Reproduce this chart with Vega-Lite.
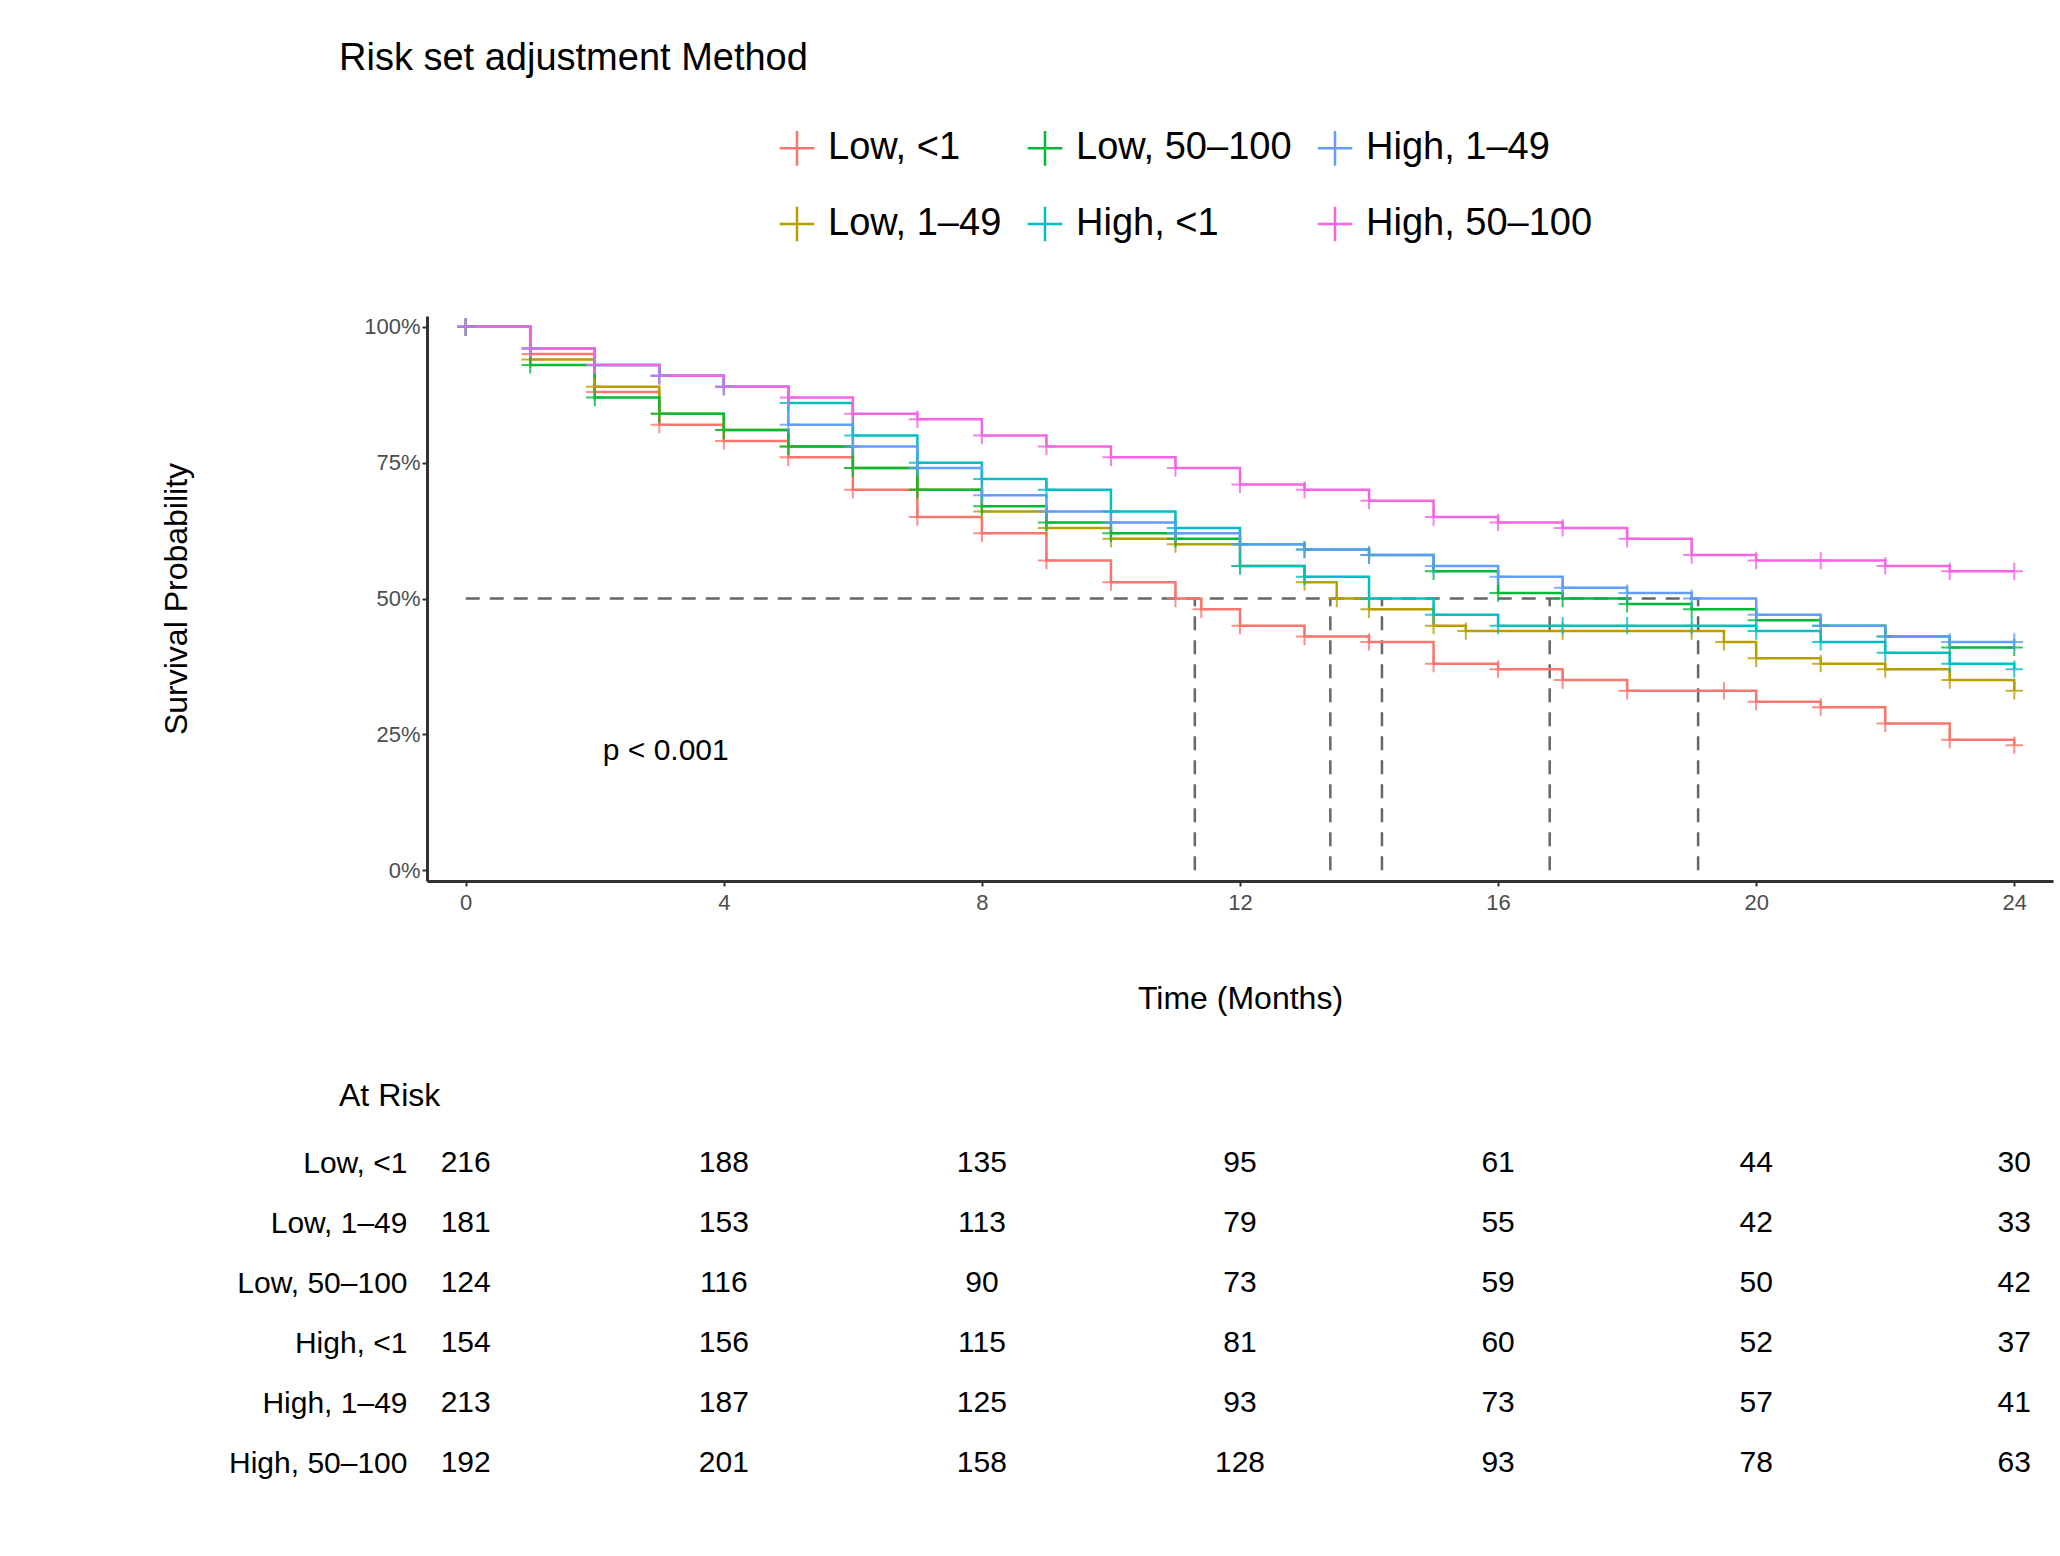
{
"$schema":"https://vega.github.io/schema/vega-lite/v6.json",
"background":"white",
"padding":{"left":160,"top":40,"right":20,"bottom":20},
"config":{"font":"Liberation Sans","view":{"stroke":null}},
"datasets":{
"surv":[
{"g":"Low, <1","t":0,"s":1.0},{"g":"Low, <1","t":1,"s":0.95},{"g":"Low, <1","t":2,"s":0.88},{"g":"Low, <1","t":3,"s":0.82},{"g":"Low, <1","t":4,"s":0.79},{"g":"Low, <1","t":5,"s":0.76},{"g":"Low, <1","t":6,"s":0.7},{"g":"Low, <1","t":7,"s":0.65},{"g":"Low, <1","t":8,"s":0.62},{"g":"Low, <1","t":9,"s":0.57},{"g":"Low, <1","t":10,"s":0.53},{"g":"Low, <1","t":11,"s":0.5},{"g":"Low, <1","t":11.4,"s":0.48},{"g":"Low, <1","t":12,"s":0.45},{"g":"Low, <1","t":13,"s":0.43},{"g":"Low, <1","t":14,"s":0.42},{"g":"Low, <1","t":15,"s":0.38},{"g":"Low, <1","t":16,"s":0.37},{"g":"Low, <1","t":17,"s":0.35},{"g":"Low, <1","t":18,"s":0.33},{"g":"Low, <1","t":19.5,"s":0.33},{"g":"Low, <1","t":20,"s":0.31},{"g":"Low, <1","t":21,"s":0.3},{"g":"Low, <1","t":22,"s":0.27},{"g":"Low, <1","t":23,"s":0.24},{"g":"Low, <1","t":24,"s":0.23},
{"g":"Low, 1–49","t":0,"s":1.0},{"g":"Low, 1–49","t":1,"s":0.94},{"g":"Low, 1–49","t":2,"s":0.89},{"g":"Low, 1–49","t":3,"s":0.84},{"g":"Low, 1–49","t":4,"s":0.81},{"g":"Low, 1–49","t":5,"s":0.78},{"g":"Low, 1–49","t":6,"s":0.74},{"g":"Low, 1–49","t":7,"s":0.7},{"g":"Low, 1–49","t":8,"s":0.66},{"g":"Low, 1–49","t":9,"s":0.63},{"g":"Low, 1–49","t":10,"s":0.61},{"g":"Low, 1–49","t":11,"s":0.6},{"g":"Low, 1–49","t":12,"s":0.56},{"g":"Low, 1–49","t":13,"s":0.53},{"g":"Low, 1–49","t":13.5,"s":0.5},{"g":"Low, 1–49","t":14,"s":0.48},{"g":"Low, 1–49","t":15,"s":0.45},{"g":"Low, 1–49","t":15.5,"s":0.44},{"g":"Low, 1–49","t":17,"s":0.44},{"g":"Low, 1–49","t":19,"s":0.44},{"g":"Low, 1–49","t":19.5,"s":0.42},{"g":"Low, 1–49","t":20,"s":0.39},{"g":"Low, 1–49","t":21,"s":0.38},{"g":"Low, 1–49","t":22,"s":0.37},{"g":"Low, 1–49","t":23,"s":0.35},{"g":"Low, 1–49","t":24,"s":0.33},
{"g":"Low, 50–100","t":0,"s":1.0},{"g":"Low, 50–100","t":1,"s":0.93},{"g":"Low, 50–100","t":2,"s":0.87},{"g":"Low, 50–100","t":3,"s":0.84},{"g":"Low, 50–100","t":4,"s":0.81},{"g":"Low, 50–100","t":5,"s":0.78},{"g":"Low, 50–100","t":6,"s":0.74},{"g":"Low, 50–100","t":7,"s":0.7},{"g":"Low, 50–100","t":8,"s":0.67},{"g":"Low, 50–100","t":9,"s":0.64},{"g":"Low, 50–100","t":10,"s":0.62},{"g":"Low, 50–100","t":11,"s":0.61},{"g":"Low, 50–100","t":12,"s":0.6},{"g":"Low, 50–100","t":13,"s":0.59},{"g":"Low, 50–100","t":14,"s":0.58},{"g":"Low, 50–100","t":15,"s":0.55},{"g":"Low, 50–100","t":16,"s":0.51},{"g":"Low, 50–100","t":17,"s":0.5},{"g":"Low, 50–100","t":18,"s":0.49},{"g":"Low, 50–100","t":19,"s":0.48},{"g":"Low, 50–100","t":20,"s":0.46},{"g":"Low, 50–100","t":21,"s":0.45},{"g":"Low, 50–100","t":22,"s":0.43},{"g":"Low, 50–100","t":23,"s":0.41},{"g":"Low, 50–100","t":24,"s":0.41},
{"g":"High, <1","t":0,"s":1.0},{"g":"High, <1","t":1,"s":0.96},{"g":"High, <1","t":2,"s":0.93},{"g":"High, <1","t":3,"s":0.91},{"g":"High, <1","t":4,"s":0.89},{"g":"High, <1","t":5,"s":0.86},{"g":"High, <1","t":6,"s":0.8},{"g":"High, <1","t":7,"s":0.75},{"g":"High, <1","t":8,"s":0.72},{"g":"High, <1","t":9,"s":0.7},{"g":"High, <1","t":10,"s":0.66},{"g":"High, <1","t":11,"s":0.63},{"g":"High, <1","t":12,"s":0.56},{"g":"High, <1","t":13,"s":0.54},{"g":"High, <1","t":14,"s":0.5},{"g":"High, <1","t":15,"s":0.47},{"g":"High, <1","t":16,"s":0.45},{"g":"High, <1","t":17,"s":0.45},{"g":"High, <1","t":18,"s":0.45},{"g":"High, <1","t":19,"s":0.45},{"g":"High, <1","t":20,"s":0.44},{"g":"High, <1","t":21,"s":0.42},{"g":"High, <1","t":22,"s":0.4},{"g":"High, <1","t":23,"s":0.38},{"g":"High, <1","t":24,"s":0.37},
{"g":"High, 1–49","t":0,"s":1.0},{"g":"High, 1–49","t":1,"s":0.96},{"g":"High, 1–49","t":2,"s":0.93},{"g":"High, 1–49","t":3,"s":0.91},{"g":"High, 1–49","t":4,"s":0.89},{"g":"High, 1–49","t":5,"s":0.82},{"g":"High, 1–49","t":6,"s":0.78},{"g":"High, 1–49","t":7,"s":0.74},{"g":"High, 1–49","t":8,"s":0.69},{"g":"High, 1–49","t":9,"s":0.66},{"g":"High, 1–49","t":10,"s":0.64},{"g":"High, 1–49","t":11,"s":0.62},{"g":"High, 1–49","t":12,"s":0.6},{"g":"High, 1–49","t":13,"s":0.59},{"g":"High, 1–49","t":14,"s":0.58},{"g":"High, 1–49","t":15,"s":0.56},{"g":"High, 1–49","t":16,"s":0.54},{"g":"High, 1–49","t":17,"s":0.52},{"g":"High, 1–49","t":18,"s":0.51},{"g":"High, 1–49","t":19,"s":0.5},{"g":"High, 1–49","t":20,"s":0.47},{"g":"High, 1–49","t":21,"s":0.45},{"g":"High, 1–49","t":22,"s":0.43},{"g":"High, 1–49","t":23,"s":0.42},{"g":"High, 1–49","t":24,"s":0.42},
{"g":"High, 50–100","t":0,"s":1.0},{"g":"High, 50–100","t":1,"s":0.96},{"g":"High, 50–100","t":2,"s":0.93},{"g":"High, 50–100","t":3,"s":0.91},{"g":"High, 50–100","t":4,"s":0.89},{"g":"High, 50–100","t":5,"s":0.87},{"g":"High, 50–100","t":6,"s":0.84},{"g":"High, 50–100","t":7,"s":0.83},{"g":"High, 50–100","t":8,"s":0.8},{"g":"High, 50–100","t":9,"s":0.78},{"g":"High, 50–100","t":10,"s":0.76},{"g":"High, 50–100","t":11,"s":0.74},{"g":"High, 50–100","t":12,"s":0.71},{"g":"High, 50–100","t":13,"s":0.7},{"g":"High, 50–100","t":14,"s":0.68},{"g":"High, 50–100","t":15,"s":0.65},{"g":"High, 50–100","t":16,"s":0.64},{"g":"High, 50–100","t":17,"s":0.63},{"g":"High, 50–100","t":18,"s":0.61},{"g":"High, 50–100","t":19,"s":0.58},{"g":"High, 50–100","t":20,"s":0.57},{"g":"High, 50–100","t":21,"s":0.57},{"g":"High, 50–100","t":22,"s":0.56},{"g":"High, 50–100","t":23,"s":0.55},{"g":"High, 50–100","t":24,"s":0.55}
],
"med":[
{"x":0,"x2":19.1,"y":0.5,"y2":0.5},
{"x":11.3,"x2":11.3,"y":0,"y2":0.5},
{"x":13.4,"x2":13.4,"y":0,"y2":0.5},
{"x":14.2,"x2":14.2,"y":0,"y2":0.5},
{"x":16.8,"x2":16.8,"y":0,"y2":0.5},
{"x":19.1,"x2":19.1,"y":0,"y2":0.5}
],
"risk":[
{"g":"Low, <1","t":0,"n":216},{"g":"Low, <1","t":4,"n":188},{"g":"Low, <1","t":8,"n":135},{"g":"Low, <1","t":12,"n":95},{"g":"Low, <1","t":16,"n":61},{"g":"Low, <1","t":20,"n":44},{"g":"Low, <1","t":24,"n":30},
{"g":"Low, 1–49","t":0,"n":181},{"g":"Low, 1–49","t":4,"n":153},{"g":"Low, 1–49","t":8,"n":113},{"g":"Low, 1–49","t":12,"n":79},{"g":"Low, 1–49","t":16,"n":55},{"g":"Low, 1–49","t":20,"n":42},{"g":"Low, 1–49","t":24,"n":33},
{"g":"Low, 50–100","t":0,"n":124},{"g":"Low, 50–100","t":4,"n":116},{"g":"Low, 50–100","t":8,"n":90},{"g":"Low, 50–100","t":12,"n":73},{"g":"Low, 50–100","t":16,"n":59},{"g":"Low, 50–100","t":20,"n":50},{"g":"Low, 50–100","t":24,"n":42},
{"g":"High, <1","t":0,"n":154},{"g":"High, <1","t":4,"n":156},{"g":"High, <1","t":8,"n":115},{"g":"High, <1","t":12,"n":81},{"g":"High, <1","t":16,"n":60},{"g":"High, <1","t":20,"n":52},{"g":"High, <1","t":24,"n":37},
{"g":"High, 1–49","t":0,"n":213},{"g":"High, 1–49","t":4,"n":187},{"g":"High, 1–49","t":8,"n":125},{"g":"High, 1–49","t":12,"n":93},{"g":"High, 1–49","t":16,"n":73},{"g":"High, 1–49","t":20,"n":57},{"g":"High, 1–49","t":24,"n":41},
{"g":"High, 50–100","t":0,"n":192},{"g":"High, 50–100","t":4,"n":201},{"g":"High, 50–100","t":8,"n":158},{"g":"High, 50–100","t":12,"n":128},{"g":"High, 50–100","t":16,"n":93},{"g":"High, 50–100","t":20,"n":78},{"g":"High, 50–100","t":24,"n":63}
],
"pv":[{"x":3.1,"y":0.22,"label":"p < 0.001"}]
},
"vconcat":[
{
"width":1626,"height":565,
"title":{"text":"Risk set adjustment Method","anchor":"start","frame":"group","dx":-88,"fontSize":38,"fontWeight":"normal","offset":236,"color":"black"},
"layer":[
{"data":{"name":"med"},"mark":{"type":"rule","strokeDash":[14,10],"strokeWidth":2.5,"color":"#666666"},
"encoding":{"x":{"field":"x","type":"quantitative"},"x2":{"field":"x2"},"y":{"field":"y","type":"quantitative"},"y2":{"field":"y2"}}},
{"data":{"name":"surv"},"mark":{"type":"line","interpolate":"step-after","strokeWidth":2.5},
"encoding":{
"x":{"field":"t","type":"quantitative","scale":{"domain":[-0.6,24.6],"nice":false,"zero":false},
"axis":{"values":[0,4,8,12,16,20,24],"format":"d","title":"Time (Months)","titleFontSize":32,"titleFontWeight":"normal","titlePadding":70,"titleColor":"black","labelFontSize":22,"labelColor":"#4d4d4d","domainColor":"#333333","domainWidth":3,"tickColor":"#333333","tickWidth":2,"grid":false,"labelPadding":6}},
"y":{"field":"s","type":"quantitative","scale":{"domain":[-0.02,1.02],"nice":false,"zero":false},
"axis":{"values":[0,0.25,0.5,0.75,1],"format":".0%","title":"Survival Probability","titleFontSize":32,"titleFontWeight":"normal","titlePadding":170,"titleColor":"black","labelFontSize":22,"labelColor":"#4d4d4d","domainColor":"#333333","domainWidth":3,"tickColor":"#333333","tickWidth":2,"grid":false}},
"color":{"field":"g","type":"nominal",
"scale":{"domain":["Low, <1","Low, 50–100","High, 1–49","Low, 1–49","High, <1","High, 50–100"],"range":["#F8766D","#00BA38","#619CFF","#B79F00","#00BFC4","#F564E3"]},
"legend":{"title":null,"orient":"none","legendX":351,"legendY":-187,"columns":3,"direction":"horizontal","labelFontSize":38,"labelLimit":500,"labelColor":"black","symbolType":"M-1,0H1M0,-1V1","symbolSize":1200,"symbolStrokeWidth":2.5,"rowPadding":30,"columnPadding":20,"labelOffset":12}}}},
{"data":{"name":"surv"},"mark":{"type":"point","shape":"M-1,0H1M0,-1V1","size":300,"strokeWidth":2,"opacity":0.8},
"encoding":{"x":{"field":"t","type":"quantitative"},"y":{"field":"s","type":"quantitative"},"color":{"field":"g","type":"nominal","legend":null}}},
{"data":{"name":"pv"},"mark":{"type":"text","fontSize":30,"color":"black"},
"encoding":{"x":{"field":"x","type":"quantitative"},"y":{"field":"y","type":"quantitative"},"text":{"field":"label"}}}
]
},
{
"width":1626,"height":360,
"title":{"text":"At Risk","anchor":"start","frame":"group","dx":-88,"fontSize":32,"fontWeight":"normal","color":"black","offset":20},
"data":{"name":"risk"},
"mark":{"type":"text","fontSize":30,"color":"black"},
"encoding":{
"x":{"field":"t","type":"quantitative","scale":{"domain":[-0.6,24.6],"nice":false,"zero":false},"axis":null},
"y":{"field":"g","type":"nominal","sort":["Low, <1","Low, 1–49","Low, 50–100","High, <1","High, 1–49","High, 50–100"],
"axis":{"title":null,"domain":false,"ticks":false,"labelFontSize":30,"labelColor":"black","labelPadding":20}},
"text":{"field":"n"}}
}
],
"spacing":66
}
